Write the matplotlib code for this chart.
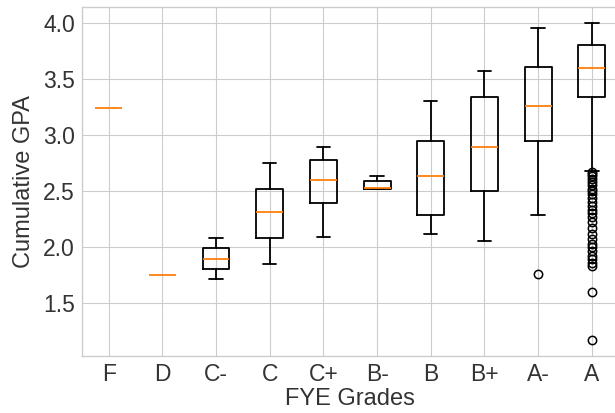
import matplotlib
matplotlib.use("Agg")
import matplotlib.pyplot as plt

# box statistics
grades = ["F", "D", "C-", "C", "C+", "B-", "B", "B+", "A-", "A"]
med = [3.24, 1.75, 1.89, 2.31, 2.60, 2.53, 2.63, 2.89, 3.26, 3.60]
q1 = [3.24, 1.75, 1.80, 2.08, 2.39, 2.52, 2.29, 2.50, 2.95, 3.34]
q3 = [3.24, 1.75, 1.99, 2.52, 2.78, 2.59, 2.95, 3.34, 3.61, 3.80]
whislo = [3.24, 1.75, 1.71, 1.85, 2.09, 2.52, 2.12, 2.05, 2.29, 2.68]
whishi = [3.24, 1.75, 2.08, 2.75, 2.89, 2.63, 3.30, 3.57, 3.96, 4.00]
fliers_a_minus = [1.76]
fliers_a = [2.67, 2.65, 2.63, 2.61, 2.58, 2.55, 2.52, 2.50, 2.47, 2.44, 2.40,
            2.37, 2.33, 2.30, 2.27, 2.22, 2.17, 2.12, 2.07, 2.03, 2.00,
            1.96, 1.92, 1.89, 1.86, 1.83, 1.60, 1.17]

plt.style.use("seaborn-v0_8-whitegrid")
plt.rcParams["font.family"] = ["Arial", "Liberation Sans", "DejaVu Sans"]

fliers = [[] for _ in grades]
fliers[8] = fliers_a_minus
fliers[9] = fliers_a
stats = []
for i, g in enumerate(grades):
    stats.append(dict(label=g, med=med[i], q1=q1[i], q3=q3[i],
                      whislo=whislo[i], whishi=whishi[i], fliers=fliers[i]))

fig = plt.figure(figsize=(6.15, 4.13), dpi=100)
ax = fig.add_axes([0.133, 0.139, 0.873, 0.843])
lw = 1.3
parts = ax.bxp(stats, showfliers=True,
               boxprops=dict(linewidth=lw), whiskerprops=dict(linewidth=lw),
               capprops=dict(linewidth=lw), medianprops=dict(linewidth=lw),
               flierprops=dict(markeredgewidth=1.1))

# single-value groups: only the median line shows up
for i in range(len(grades)):
    if q1[i] == q3[i] and whislo[i] == whishi[i]:
        parts["boxes"][i].set_visible(False)
        for k in (2 * i, 2 * i + 1):
            parts["whiskers"][k].set_visible(False)
            parts["caps"][k].set_visible(False)

ax.set_xlim(0.5, 10.5)
ax.set_ylim(1.03, 4.14)
ax.set_yticks([1.5, 2.0, 2.5, 3.0, 3.5, 4.0])
ax.tick_params(labelsize=16.5, pad=5, labelcolor="#333333")
ax.set_xlabel("FYE Grades", fontsize=17, labelpad=2, color="#333333")
ax.set_ylabel("Cumulative GPA", fontsize=17, labelpad=6, color="#333333")
fig.savefig("out.png", dpi=100)
